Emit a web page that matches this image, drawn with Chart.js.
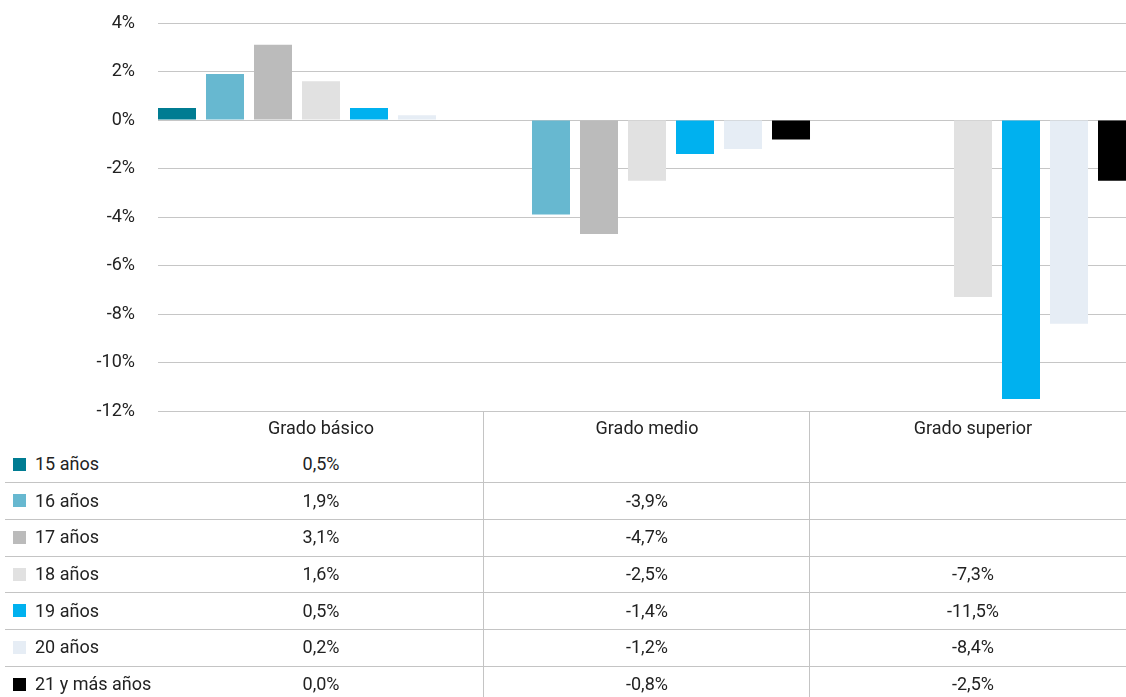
<!DOCTYPE html>
<html>
<head>
<meta charset="utf-8">
<script src="https://cdn.jsdelivr.net/npm/chart.js@4/dist/chart.umd.min.js"></script>
<style>
  html, body { margin: 0; padding: 0; background: #fff; overflow: hidden; width: 1126px; height: 697px; }
  #wrap { position: absolute; left: 0; top: 0; width: 1126px; height: 697px; overflow: hidden; }
  #c { position: absolute; left: 0; top: 0; }
  .t { position: absolute; font-family: Roboto, "Liberation Sans", sans-serif; font-size: 18px; color: #222; white-space: nowrap; line-height: 20px; }
  .hl { position: absolute; height: 0; border-top: 1px solid #c4c4c4; }
  .vl { position: absolute; width: 0; border-left: 1.5px solid #c4c4c4; }
  .sq { position: absolute; width: 13px; height: 13px; }
</style>
</head>
<body>
<div id="wrap">
  <canvas id="c" width="1136" height="445"></canvas>
  <div id="table"></div>
</div>
<script>
const categories = ["Grado básico", "Grado medio", "Grado superior"];
const seriesNames = ["15 años", "16 años", "17 años", "18 años", "19 años", "20 años", "21 y más años"];
const s15 = [0.5, null, null];
const s16 = [1.9, -3.9, null];
const s17 = [3.1, -4.7, null];
const s18 = [1.6, -2.5, -7.3];
const s19 = [0.5, -1.4, -11.5];
const s20 = [0.2, -1.2, -8.4];
const s21 = [0.0, -0.8, -2.5];
const seriesValues = [s15, s16, s17, s18, s19, s20, s21];
const colors = ["#007C92", "#67B8D0", "#BBBBBB", "#E1E1E1", "#00B1EF", "#E6EDF5", "#000000"];
const yTicks = [4, 2, 0, -2, -4, -6, -8, -10, -12];

const fontFamily = 'Roboto, "Liberation Sans", sans-serif';

const chart = new Chart(document.getElementById('c'), {
  type: 'bar',
  data: {
    labels: categories,
    datasets: seriesNames.map((n, i) => ({
      label: n,
      data: seriesValues[i],
      backgroundColor: colors[i],
      borderWidth: 0,
      categoryPercentage: 1.0307,
      barPercentage: 0.7917
    }))
  },
  options: {
    responsive: false,
    animation: false,
    layout: { padding: { top: 23, bottom: 34, left: 0, right: 0 } },
    plugins: { legend: { display: false }, tooltip: { enabled: false } },
    scales: {
      x: { display: false },
      y: {
        min: -12, max: 4,
        afterFit: s => { s.width = 158; s.paddingTop = 0; s.paddingBottom = 0; },
        afterBuildTicks: s => { s.ticks = yTicks.map(v => ({ value: v })); },
        ticks: {
          callback: v => v + '%',
          font: { family: fontFamily, size: 18 },
          color: '#222',
          padding: 23
        },
        grid: { color: '#c6c6c6', lineWidth: 1, drawTicks: false },
        border: { display: false }
      }
    }
  }
});

const xs = chart.scales.x;
const centers = categories.map((c, i) => xs.getPixelForValue(i));
const bounds = [ (centers[0] + centers[1]) / 2, (centers[1] + centers[2]) / 2 ];
const table = document.getElementById('table');
function add(cls, style, text) {
  const d = document.createElement('div');
  d.className = cls;
  Object.assign(d.style, style);
  if (text !== undefined) d.textContent = text;
  table.appendChild(d);
  return d;
}
const topY = chart.chartArea.bottom;
const rowH = 36.67;
const firstRowCenter = 464;
const headerCenter = 428;
bounds.forEach(x => add('vl', { left: (x - 0.75) + 'px', top: topY + 'px', height: (697 - topY) + 'px' }));
for (let i = 0; i < seriesNames.length - 1; i++) {
  const y = Math.round(firstRowCenter + rowH * i + rowH / 2);
  add('hl', { left: '5px', width: '1130px', top: y + 'px' });
}
categories.forEach((c, i) => {
  add('t', { left: (centers[i] - 150) + 'px', width: '300px', textAlign: 'center', top: (headerCenter - 10) + 'px' }, c);
});
const fmt = v => (v === null ? '' : v.toFixed(1).replace('.', ',') + '%');
seriesNames.forEach((n, r) => {
  const cy = firstRowCenter + rowH * r;
  add('sq', { left: '13px', top: (cy - 6.5) + 'px', background: colors[r] });
  add('t', { left: '35px', top: (cy - 10) + 'px' }, n);
  categories.forEach((c, i) => {
    add('t', { left: (centers[i] - 150) + 'px', width: '300px', textAlign: 'center', top: (cy - 10) + 'px' }, fmt(seriesValues[r][i]));
  });
});
</script>
</body>
</html>
